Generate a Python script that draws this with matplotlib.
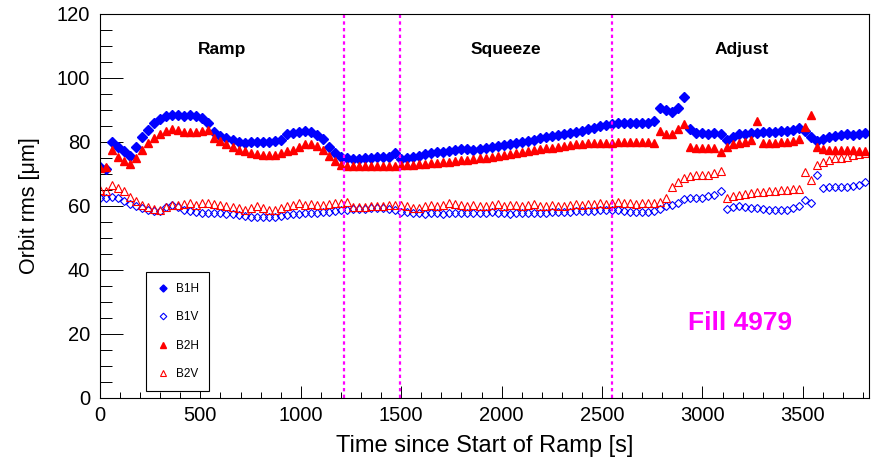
import numpy as np
import matplotlib
matplotlib.use("Agg")
from matplotlib import pyplot as plt
from matplotlib.ticker import MultipleLocator

plt.rcParams['font.family'] = ['Liberation Sans', 'DejaVu Sans']

# time grid of the readings [s]
time_s = np.arange(0, 3840, 30)

b1h = [72.0, 71.5, 80.0, 78.5, 77.0, 75.5, 78.5, 81.5, 83.8, 85.8,
       87.2, 88.2, 88.5, 88.3, 88.2, 88.4, 88.0, 87.3, 86.0, 83.0,
       81.8, 81.2, 80.5, 79.8, 79.5, 79.8, 80.0, 80.0, 80.1, 80.3,
       80.6, 82.3, 82.7, 83.2, 83.5, 83.0, 82.2, 80.8, 78.5, 76.4,
       75.2, 74.8, 74.7, 74.6, 74.9, 75.0, 75.2, 75.3, 75.4, 76.5,
       74.6, 74.9, 75.3, 75.7, 76.2, 76.6, 76.8, 76.9, 77.0, 77.4,
       77.9, 77.8, 77.6, 77.7, 78.0, 78.3, 78.6, 78.9, 79.2, 79.6,
       80.0, 80.3, 80.7, 81.1, 81.5, 81.7, 82.1, 82.4, 82.7, 83.0,
       83.4, 83.9, 84.4, 84.9, 85.4, 85.7, 85.9, 86.0, 86.0, 85.8,
       86.0, 85.8, 86.5, 90.5, 90.0, 89.2, 90.5, 94.0, 84.0, 82.8,
       82.7, 82.6, 82.7, 82.3, 80.6, 81.6, 82.3, 82.6, 82.7, 82.8,
       83.0, 83.2, 83.2, 83.4, 83.5, 83.6, 84.3, 83.3, 81.5, 80.4,
       80.8, 81.4, 81.9, 82.2, 82.3, 82.2, 82.5, 82.9]

b1v = [62.5, 62.6, 62.9, 62.6, 61.6, 60.6, 59.8, 59.2, 58.7, 58.5,
       58.5, 59.5, 60.3, 59.5, 58.8, 58.3, 58.1, 57.9, 57.8, 57.7,
       57.7, 57.5, 57.4, 57.0, 56.8, 56.6, 56.6, 56.6, 56.5, 56.6,
       56.8, 57.2, 57.5, 57.6, 57.7, 57.7, 57.9, 58.0, 58.2, 58.4,
       58.7, 58.8, 58.9, 59.0, 59.1, 59.2, 59.2, 59.3, 59.1, 58.8,
       58.2, 58.0, 57.8, 57.7, 57.6, 57.8, 57.7, 57.6, 57.7, 57.8,
       57.9, 57.9, 57.8, 57.9, 57.9, 58.0, 57.8, 57.7, 57.6, 57.7,
       57.8, 57.7, 57.8, 57.9, 57.9, 58.0, 58.1, 58.2, 58.2, 58.3,
       58.4, 58.5, 58.5, 58.6, 58.7, 58.8, 58.6, 58.4, 58.2, 58.2,
       58.2, 58.2, 58.3, 59.0, 59.8, 60.4, 60.9, 62.2, 62.4, 62.4,
       62.5, 63.0, 63.3, 64.5, 59.0, 59.6, 59.8, 59.5, 59.3, 59.2,
       59.0, 58.8, 58.8, 58.7, 58.8, 59.2, 59.8, 61.9, 61.0, 69.5,
       65.5, 65.8, 66.0, 66.0, 66.0, 66.2, 66.6, 67.3]

b2h = [71.8, 72.0, 77.5, 75.2, 74.0, 73.2, 75.0, 77.6, 79.6, 81.2,
       82.6, 83.5, 84.0, 83.6, 83.2, 83.2, 83.1, 83.3, 83.7, 81.3,
       80.3, 79.3, 78.5, 77.6, 77.1, 76.6, 76.2, 76.0, 75.9, 76.0,
       76.5, 77.2, 77.5, 78.5, 79.2, 79.4, 78.8, 77.3, 75.6, 74.0,
       72.8, 72.5, 72.3, 72.3, 72.4, 72.4, 72.4, 72.5, 72.5, 72.6,
       72.7, 72.8, 72.9, 73.0, 73.2, 73.3, 73.5, 73.6, 73.8, 74.0,
       74.2, 74.4, 74.6, 74.8, 75.1, 75.4, 75.7, 76.0, 76.3, 76.6,
       76.8, 77.1, 77.4, 77.7, 78.0, 78.2, 78.5, 78.7, 79.0, 79.2,
       79.4, 79.5, 79.6, 79.6, 79.7, 79.7, 79.8, 79.9, 80.0, 80.0,
       80.1, 80.0, 79.7, 83.5, 82.5, 82.6, 84.0, 85.5, 78.4, 78.2,
       78.0, 78.0, 78.1, 76.7, 78.5, 79.3, 79.6, 79.8, 80.5, 86.5,
       79.6, 79.5, 79.6, 79.8, 80.0, 80.3, 81.0, 84.5, 88.5, 78.5,
       77.8, 77.5, 77.5, 77.6, 77.4, 77.3, 77.2, 77.0]

b2v = [65.0, 64.5, 66.6, 65.5, 64.5, 62.8, 61.5, 60.3, 59.6, 59.0,
       58.8, 59.5, 60.2, 60.4, 60.5, 60.8, 60.4, 60.9, 60.8, 60.5,
       60.2, 59.8, 59.5, 59.2, 58.8, 59.4, 59.8, 59.2, 58.8, 58.8,
       59.4, 59.8, 60.2, 60.8, 60.3, 60.5, 60.2, 60.3, 60.6, 60.8,
       61.0, 61.3, 59.5, 59.5, 59.7, 59.8, 59.8, 60.0, 60.2, 60.3,
       60.4, 59.8, 59.3, 59.4, 59.8, 60.2, 59.8, 60.4, 60.9, 60.5,
       60.3, 59.9, 60.4, 60.1, 59.8, 60.2, 60.5, 60.0, 60.3, 60.3,
       59.9, 60.2, 60.5, 59.9, 59.8, 60.3, 60.0, 60.0, 60.3, 60.5,
       60.4, 60.6, 60.5, 60.9, 60.7, 61.0, 61.3, 60.8, 60.8, 60.6,
       60.8, 60.8, 61.0, 61.3, 62.5, 65.8, 67.6, 68.6, 69.2, 69.6,
       69.7, 69.7, 70.2, 71.0, 62.5, 63.2, 63.4, 63.7, 64.0, 64.2,
       64.4, 64.5, 64.7, 64.9, 65.0, 65.2, 65.4, 70.5, 68.2, 72.8,
       73.8, 74.4, 74.8, 75.1, 75.4, 75.8, 76.2, 76.5]

phase_edges = [1215, 1495, 2550]
phase_names = ["Ramp", "Squeeze", "Adjust"]
phase_label_x = [610, 2020, 3195]

fig = plt.figure(figsize=(8.77, 4.61), dpi=100)
ax = fig.add_axes([0.114, 0.137, 0.877, 0.833])

ax.plot(time_s, b1h, ls="none", marker="D", ms=4.8, color="blue", label="B1H")
ax.plot(time_s, b1v, ls="none", marker="D", ms=4.5, mfc="none", mec="blue", mew=0.8, label="B1V")
ax.plot(time_s, b2h, ls="none", marker="^", ms=6.3, color="red", label="B2H")
ax.plot(time_s, b2v, ls="none", marker="^", ms=6.3, mfc="none", mec="red", mew=0.8, label="B2V")

for xe in phase_edges:
    ax.axvline(xe, color="magenta", ls=(0, (1.5, 1.5)), lw=1.6)

for name, xl in zip(phase_names, phase_label_x):
    ax.text(xl, 109, name, ha="center", va="center", fontsize=12.5, fontweight="bold")

ax.text(3185, 23.5, "Fill 4979", ha="center", va="center", fontsize=19,
        fontweight="bold", color="magenta")

ax.set_xlim(0, 3830)
ax.set_ylim(0, 120)
ax.xaxis.set_major_locator(MultipleLocator(500))
ax.xaxis.set_minor_locator(MultipleLocator(100))
ax.yaxis.set_major_locator(MultipleLocator(20))
ax.yaxis.set_minor_locator(MultipleLocator(5))
ax.tick_params(axis="x", which="major", direction="in", length=8.3, width=0.7, labelsize=14.5, pad=6)
ax.tick_params(axis="x", which="minor", direction="in", length=4.2, width=0.7)
ax.tick_params(axis="y", which="major", direction="in", length=16.5, width=0.7, labelsize=14.5, pad=7)
ax.tick_params(axis="y", which="minor", direction="in", length=8.3, width=0.7)
for sp in ax.spines.values():
    sp.set_linewidth(0.8)

ax.set_xlabel("Time since Start of Ramp [s]", fontsize=17, labelpad=7)
ax.set_ylabel("Orbit rms [μm]", fontsize=15.5, labelpad=12)

# legend box, small markers like the ROOT one
leg = ax.legend(loc="lower left", bbox_to_anchor=(0.06, 0.018), fontsize=8.5,
                frameon=True, fancybox=False, edgecolor="black", framealpha=1,
                handlelength=1.0, handletextpad=0.6, labelspacing=1.4,
                borderpad=0.9, borderaxespad=0, markerscale=0.75)
leg.get_frame().set_linewidth(0.8)

fig.savefig("out.png", dpi=100)
